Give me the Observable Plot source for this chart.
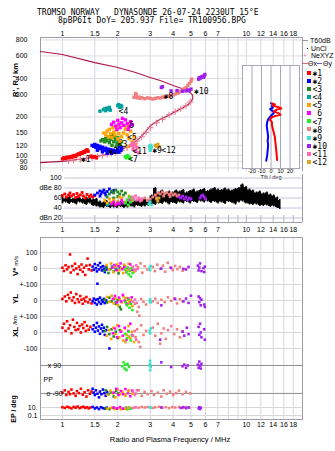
<!DOCTYPE html>
<html>
<head>
<meta charset="utf-8">
<script src="https://cdn.jsdelivr.net/npm/d3@7"></script>
<script src="https://cdn.jsdelivr.net/npm/@observablehq/plot@0.6"></script>
<style>
  html, body { margin: 0; padding: 0; background: #fff; }
  #ionogram { position: relative; width: 335px; height: 451px; overflow: hidden; font-family: "Liberation Sans", Arial, sans-serif; color: #000; }
  #ionogram svg { position: absolute; overflow: visible; }
  .txt { position: absolute; white-space: pre; line-height: 1; }
</style>
</head>
<body>
<div id="ionogram"></div>
<script>
// ---------- header ----------
const titleLine1 = "TROMSO NORWAY   DYNASONDE 26-07-24 2230UT 15°E";
const titleLine2 = "8pBP6It DoY= 205.937 File= TR100956.BPG";

// ---------- axes ----------
const freqDomain = [0.76, 20.2];
const freqTicks = [1, 1.5, 2, 3, 4, 5, 6, 7, 8, 9, 10, 12, 14, 16, 18];
const topFreqTicks = [1, 1.5, 2, 3, 4, 5, 6, 7, 8, 10, 12, 14, 16, 18];
const heightTicks = [80, 90, 100, 120, 150, 200, 300, 400, 600, 800];
const dbTicks = [20, 40, 60, 80, 100];
const dbTickLabels = ["dBn 20", "40", "60", "dBe 80", "100"];
const tiltTicks = [-20, -10, 0, 10, 20];

// ---------- echo groups ----------
const groups = ["✱1", "✱2", "<3", "<4", "<5", " 6", "<7", "✱8", "✱9", "✱10", "<11", "<12"];
const groupColors = ["#ff0000", "#0000ff", "#228b22", "#00a0a0", "#ffa500", "#ff00ff",
                     "#22ee22", "#f08080", "#40e0d0", "#a020f0", "#ff69b4", "#daa520"];

// virtual heights R' (MHz, km)
const virtualHeights = [
  [[1.0,94],[1.02,96],[1.04,95],[1.06,97],[1.08,96],[1.1,98],[1.12,97],[1.14,99],[1.16,100],[1.18,98],[1.2,101],[1.22,103],[1.24,102],[1.26,105],[1.28,104],[1.3,107],[1.32,106],[1.34,109],[1.36,111],[1.38,108],[1.43,99],[1.46,97],[1.5,98],[1.53,96]],
  [[1.45,120],[1.48,118],[1.5,122],[1.52,116],[1.55,120],[1.58,115],[1.6,118],[1.62,113],[1.65,116],[1.68,112],[1.7,110],[1.72,114],[1.75,109],[1.78,112],[1.8,108],[1.83,111],[1.86,107],[1.9,110],[1.93,106],[1.96,108],[2.0,112],[2.02,118],[2.04,124],[2.06,130],[2.03,106],[2.08,110],[2.1,115],[1.55,110],[1.65,107],[1.75,104],[1.85,104]],
  [[1.62,130],[1.65,133],[1.7,128],[1.72,136],[1.75,131],[1.78,140],[1.8,126],[1.83,134],[1.85,145],[1.88,138],[1.9,128],[1.92,142],[1.95,133],[1.98,125],[2.0,138],[2.03,130],[2.06,122],[2.1,128],[1.86,120],[1.96,118]],
  [[1.6,222],[1.67,228],[1.7,232],[1.72,224],[1.75,235],[1.78,230],[1.8,238],[1.82,226],[2.0,245],[2.02,250],[2.05,238],[2.08,246],[2.1,240]],
  [[1.68,150],[1.72,145],[1.75,155],[1.78,140],[1.8,160],[1.83,148],[1.86,138],[1.88,165],[1.9,152],[1.93,145],[1.96,158],[2.0,135],[2.03,148],[2.06,128],[2.1,140],[2.15,150],[2.2,160],[2.25,145],[2.3,135],[2.35,155],[2.4,128],[2.45,140],[2.5,122],[2.2,170],[2.28,118],[1.98,168]],
  [[1.85,175],[1.9,182],[1.95,170],[2.0,188],[2.03,176],[2.06,165],[2.1,180],[2.15,172],[2.2,190],[2.25,178],[2.3,168],[2.35,184],[2.4,174],[2.12,195],[1.98,160],[2.28,160]],
  [[2.2,98],[2.23,96],[2.26,100],[2.3,97],[2.33,95]],
  [[2.45,285],[2.5,290],[2.5,305],[2.52,298],[2.55,282],[2.6,286],[2.65,280],[2.7,284],[2.8,278],[2.9,282],[3.0,280],[3.1,276],[3.2,280],[3.3,283],[3.4,281],[3.5,286],[3.6,284],[3.7,290],[3.8,293],[3.9,292],[4.0,298],[4.1,302],[4.2,306],[4.3,312],[4.4,318],[4.5,325],[4.6,332],[4.7,340],[4.8,352],[4.9,365],[5.0,380],[5.05,395]],
  [[2.98,118],[3.0,114],[3.02,120],[3.04,116],[3.0,110]],
  [[3.45,340],[3.5,345],[3.9,320],[4.2,322],[4.5,318],[4.7,320],[4.8,325],[4.9,322],[5.0,330],[5.5,395],[5.55,405],[5.6,400],[5.7,412],[5.8,415],[5.9,420],[5.95,430],[5.85,408]],
  [[2.35,120],[2.4,125],[2.42,112],[2.45,118],[2.5,108],[2.55,115],[2.6,105],[2.48,122]],
  [[3.2,120],[3.25,118],[3.3,122],[3.35,117]]
];
const labelF = [1.26, 1.78, 2.0, 2.02, 2.25, 2.3, 2.28, 3.55, 3.08, 5.2, 2.4, 3.45];
const labelH = [94, 108, 122, 220, 138, 172, 94, 290, 109, 316, 108, 110];

// electron density profile (plasma frequency MHz, real height km)
const profileF = [0.76,1.0,1.2,1.42,1.62,1.82,2.05,2.34,2.6,2.8,3.0,3.2,3.4,3.7,4.0,4.3,4.66,4.9,5.05,5.12,5.1,5.0,4.8,4.5,4.0,3.4,3.0,2.5,2.0,1.5,1.0,0.76];
const profileH = [88,90,93,96,100,104,110,120,135,150,170,182,192,203,216,228,242,255,268,283,297,306,318,333,352,385,407,445,487,532,615,650];
const neXYZF = [1.08,1.15,1.25,1.35,1.45,1.55,1.65,1.75,1.85,1.95,2.1,2.25,2.4,2.55,2.7,2.85,3.0,3.25,3.5,3.8,4.1,4.4,4.7,4.95];
const neXYZH = [91,92,93,95,96,98,100,102,104,106,110,115,122,130,140,152,165,180,192,208,220,232,245,262];

// tilts (km, deg)
const tiltXH = [255,250,245,238,233,228,220,214,208,203,197,190,182,172,160,150,140,130,120,110,100,92];
const tiltX  = [1,4,2,8,11,6,3,8,10,4,0,-1,1,1,2,3,4,4.5,5,5.5,6,6.5];
const tiltYH = [255,250,243,236,230,222,215,208,200,192,182,170,160,150,140,130,120,110,100,91];
const tiltY  = [0,3,1,2,-1,2,3,1,-1,-3,-4,-4.5,-4,-3.5,-3,-3.5,-3,-3.5,-4,-5];

// echo amplitudes (MHz, dB)
const amplitudes = [
  [[1.0,65],[1.03,68],[1.05,62],[1.08,66],[1.1,70],[1.12,64],[1.15,67],[1.18,61],[1.2,69],[1.22,63],[1.25,66],[1.28,71],[1.3,64],[1.33,60],[1.36,67],[1.4,63],[1.43,66],[1.46,62],[1.5,65]],
  [[1.5,66],[1.55,70],[1.6,74],[1.62,68],[1.65,72],[1.68,76],[1.7,70],[1.75,73],[1.8,78],[1.85,72],[1.9,75],[1.6,64],[1.72,66]],
  [[1.75,62],[1.8,68],[1.85,74],[1.9,70],[1.95,76],[2.0,72],[2.05,68],[2.1,74],[2.15,66],[1.9,60],[2.0,63],[2.2,70]],
  [[1.75,46],[1.8,48],[2.05,50]],
  [[1.7,55],[1.75,50],[1.8,58],[1.85,52],[1.9,56],[1.95,48],[2.0,54],[2.1,60],[2.2,52],[2.3,64],[2.35,58],[2.4,55],[2.05,62]],
  [[1.85,48],[1.9,52],[1.95,46],[2.0,50],[2.05,48],[2.1,55],[2.15,50],[2.3,56],[2.35,52]],
  [[2.2,50],[2.25,56],[2.28,46],[2.32,62],[2.35,52],[2.4,58]],
  [[2.7,56],[2.8,60],[2.9,55],[3.0,58],[3.1,62],[3.2,66],[3.3,70],[3.4,68],[3.5,72],[3.6,69],[3.7,71],[3.8,67],[3.9,70],[4.0,66],[4.1,68],[4.2,64],[4.3,66],[3.25,60],[3.55,64],[3.85,63]],
  [[2.95,48],[3.0,52],[3.05,46]],
  [[4.3,62],[4.4,60],[4.5,64],[4.6,58],[4.7,62],[4.8,56],[4.9,60],[5.0,58],[5.6,60],[5.7,64],[5.8,66],[5.9,62],[6.0,58]],
  [[2.4,62],[2.45,58],[2.5,64],[2.55,56],[2.6,60],[2.65,54],[2.7,58]],
  [[3.25,58],[3.3,54],[3.35,60]]
];
// noise level (MHz, low dB, high dB)
const noise = [
  [1.00,50,60],[1.04,52,58],[1.09,49,61],[1.14,51,57],[1.19,48,60],[1.24,52,59],[1.29,50,57],[1.35,47,60],[1.41,50,58],[1.47,45,56],
  [1.53,44,57],[1.60,42,52],[1.67,41,50],[1.74,43,53],[1.82,41,50],[1.90,42,52],[1.98,41,49],[2.07,43,51],[2.16,41,50],[2.26,42,51],
  [2.36,44,54],[2.46,42,52],[2.57,45,55],[2.69,43,56],[2.81,44,57],[2.93,45,54],[3.06,48,64],[3.20,47,79],[3.34,50,70],[3.49,49,74],
  [3.65,52,68],[3.81,48,72],[3.98,51,70],[4.16,49,74],[4.35,52,72],[4.54,50,75],[4.74,53,70],[4.95,50,73],[5.17,53,76],[5.40,51,72],
  [5.64,54,75],[5.90,52,77],[6.16,54,73],[6.43,51,76],[6.72,53,79],[7.02,50,76],[7.33,52,75],[7.66,49,78],[8.00,53,76],[8.36,51,74],
  [8.73,48,77],[9.12,52,79],[9.53,54,86],[9.95,50,81],[10.40,48,76],[10.86,47,74],[11.35,48,70],[11.85,45,72],[12.38,45,68],[12.93,46,70],
  [13.51,43,66],[14.11,44,64],[14.74,41,60],[15.20,39,55]
];

// Doppler velocity V* (MHz, m/s)
const velocities = [
  [[1.0,5],[1.02,-15],[1.04,20],[1.06,-5],[1.08,10],[1.1,88],[1.11,-25],[1.13,15],[1.15,-10],[1.17,30],[1.19,0],[1.21,-35],[1.23,12],[1.25,-8],[1.27,25],[1.29,-20],[1.31,5],[1.33,-40],[1.35,18],[1.37,62],[1.39,-5],[1.41,22],[1.44,-12]],
  [[1.46,12],[1.48,-8],[1.5,28],[1.52,2],[1.54,-18],[1.56,20],[1.58,-5],[1.6,35],[1.62,8],[1.64,-12],[1.66,15],[1.68,-3],[1.7,-22],[1.72,10],[1.74,-6],[1.55,-95]],
  [[1.7,-12],[1.74,6],[1.78,-28],[1.82,-4],[1.86,12],[1.9,-18],[1.94,3],[1.98,-8],[2.02,-30],[2.06,4]],
  [[1.95,-8],[2.05,6]],
  [[1.74,22],[1.79,-6],[1.84,32],[1.89,-22],[1.94,10],[1.99,26],[2.04,-12],[2.09,2],[2.14,-28],[2.19,16],[2.24,-6],[2.29,30],[2.34,-16],[2.39,6],[2.45,-20]],
  [[1.87,6],[1.92,22],[1.97,-10],[2.02,14],[2.07,32],[2.12,-4],[2.17,10],[2.22,-22],[2.28,2],[2.34,26],[2.4,-8]],
  [[2.2,-6],[2.23,-22],[2.26,6],[2.29,-36],[2.32,-14],[2.35,-50],[2.38,2],[2.41,-28]],
  [[2.5,-12],[2.58,8],[2.66,32],[2.72,-26],[2.8,14],[2.9,-6],[3.1,10],[3.18,-16],[3.28,24],[3.4,-2],[3.52,18],[3.62,-20],[3.74,36],[3.86,6],[3.98,-10],[4.1,16],[4.22,-4],[4.35,10],[4.5,-14]],
  [[2.98,6],[3.0,-10],[3.02,16]],
  [[3.45,0],[3.9,4],[4.55,-2],[4.7,-6],[4.85,10],[5.45,18],[5.5,-12],[5.55,6],[5.6,32],[5.7,-16],[5.85,2],[5.9,-22],[5.95,12]],
  [[2.42,12],[2.47,-6],[2.52,20],[2.56,-2]],
  [[2.16,24],[2.26,-10]]
];
// reflection point location YL (MHz, km)
const locationsY = [
  [[1.0,10],[1.03,25],[1.05,-5],[1.07,35],[1.09,15],[1.11,50],[1.13,0],[1.15,20],[1.17,-15],[1.19,40],[1.21,8],[1.23,-10],[1.25,28],[1.27,5],[1.29,-20],[1.31,12],[1.33,-5],[1.35,22],[1.38,-12],[1.41,6],[1.44,-18]],
  [[1.46,-5],[1.48,12],[1.5,-15],[1.52,5],[1.54,-25],[1.56,8],[1.58,-10],[1.6,18],[1.62,-20],[1.64,2],[1.66,-8],[1.68,10],[1.7,-16],[1.73,0]],
  [[1.7,5],[1.75,-12],[1.8,18],[1.85,-6],[1.9,10],[1.95,-20],[2.0,2],[2.05,-40],[2.08,-55]],
  [[1.95,-10]],
  [[1.75,22],[1.8,-8],[1.85,30],[1.9,-18],[1.95,12],[2.0,-30],[2.05,8],[2.1,-12],[2.15,25],[2.2,-5],[2.25,15],[2.3,-22],[2.35,4],[2.4,-35]],
  [[1.88,10],[1.93,28],[1.98,-12],[2.03,18],[2.08,-6],[2.13,35],[2.18,0],[2.23,-20],[2.28,12],[2.33,-10],[2.38,20]],
  [[2.2,-10],[2.24,-30],[2.28,5],[2.32,-45],[2.36,-20],[2.4,-60]],
  [[2.48,-20],[2.55,-70],[2.6,-40],[2.62,-95],[2.68,10],[2.76,-8],[2.85,-25],[3.1,-5],[3.2,12],[3.3,-15],[3.45,5],[3.6,-10],[3.75,20],[3.9,-2],[4.05,14],[4.2,-18],[4.35,8],[4.5,-6]],
  [[2.98,-5],[3.0,8],[3.02,-12]],
  [[3.45,-30],[4.1,10],[4.55,-5],[4.7,12],[4.85,-15],[5.0,30],[5.5,25],[5.55,-10],[5.6,15],[5.65,-30],[5.7,5],[5.9,-25],[5.95,-40]],
  [[2.42,-8],[2.48,6],[2.54,-15]],
  [[2.2,15],[2.3,-5]]
];
// reflection point location XL (MHz, km)
const locationsX = [
  [[1.0,30],[1.02,55],[1.04,10],[1.06,70],[1.08,25],[1.1,45],[1.12,-5],[1.14,80],[1.16,35],[1.18,15],[1.2,60],[1.22,20],[1.24,40],[1.26,0],[1.28,50],[1.3,28],[1.32,65],[1.34,10],[1.36,42],[1.39,18],[1.42,35]],
  [[1.46,20],[1.48,45],[1.5,5],[1.52,30],[1.54,60],[1.56,12],[1.58,38],[1.6,-8],[1.62,25],[1.64,48],[1.66,8],[1.68,30],[1.7,-15],[1.73,15],[1.8,-100]],
  [[1.7,10],[1.75,35],[1.8,-10],[1.85,20],[1.9,-25],[1.95,5],[2.0,-35],[2.05,15]],
  [],
  [[1.74,-20],[1.79,15],[1.84,-40],[1.89,30],[1.94,-10],[1.99,45],[2.04,-30],[2.09,10],[2.14,-50],[2.19,25],[2.24,-15],[2.29,40],[2.34,-35],[2.39,5],[2.45,-60]],
  [[1.88,-5],[1.93,25],[1.98,-30],[2.03,40],[2.08,5],[2.13,-20],[2.18,30],[2.23,-45],[2.28,10],[2.34,55],[2.39,-15]],
  [[2.2,-10],[2.25,-35],[2.3,5],[2.35,-50],[2.4,-20]],
  [[2.5,-30],[2.55,20],[2.6,-60],[2.65,-90],[2.68,45],[2.76,-15],[2.85,10],[3.1,30],[3.2,-20],[3.3,55],[3.4,-70],[3.45,-5],[3.55,25],[3.65,-40],[3.75,15],[3.9,40],[4.05,-10],[4.2,20],[4.35,-30],[4.5,8]],
  [[2.98,10],[3.0,-5],[3.02,25]],
  [[3.4,-45],[4.5,5],[4.6,-20],[4.75,30],[4.85,-10],[5.5,35],[5.55,-15],[5.6,55],[5.65,0],[5.7,-30],[5.9,20],[5.95,-45]],
  [[2.42,-20],[2.47,10],[2.52,-45]],
  [[2.2,-60],[2.3,-25]]
];
// polarization PP (MHz, deg)
const polarizations = [
  [[1.0,-85],[1.03,-70],[1.05,-100],[1.08,-80],[1.1,-95],[1.12,-65],[1.15,-90],[1.18,-105],[1.2,-75],[1.23,-88],[1.26,-60],[1.29,-98],[1.32,-82],[1.35,-110],[1.38,-70],[1.41,-92],[1.44,-78]],
  [[1.46,-60],[1.48,-85],[1.5,-100],[1.52,-70],[1.55,-92],[1.58,-115],[1.6,-78],[1.63,-95],[1.66,-65],[1.69,-88],[1.72,-105],[1.75,-80]],
  [[1.72,-70],[1.78,-95],[1.84,-82],[1.9,-110],[1.96,-75],[2.02,-90]],
  [],
  [[1.76,-100],[1.82,-72],[1.88,-90],[1.94,-115],[2.0,-65],[2.06,-95],[2.12,-80],[2.2,-105],[2.3,-70],[2.4,-92]],
  [[1.9,-85],[1.96,-60],[2.02,-100],[2.08,-75],[2.14,-95],[2.2,-62],[2.27,-88],[2.34,-108],[2.4,-72]],
  [[2.12,85],[2.15,110],[2.18,70],[2.2,95],[2.23,60],[2.26,100],[2.3,80]],
  [[2.5,-90],[2.6,-70],[2.7,-105],[2.8,-80],[2.9,-95],[3.05,-75],[3.15,-100],[3.3,-85],[3.45,-110],[3.55,-70],[3.7,-92],[3.85,-78],[4.0,-100],[4.15,-88],[4.3,-72],[4.5,-95],[4.7,-80],[4.95,-90]],
  [[2.98,90],[3.0,120],[3.0,60],[3.02,80],[3.0,100]],
  [[3.45,110],[3.9,80],[4.5,85],[4.6,95],[4.7,75],[4.8,90],[5.45,95],[5.5,75],[5.55,115],[5.6,88],[5.65,70],[5.7,100]],
  [[2.42,-80],[2.48,-100],[2.54,-70]],
  [[2.2,-95],[2.28,-75]]
];
// phase path error EP (MHz, deg)
const phaseErrors = [
  [[1.0,12],[1.03,8],[1.06,15],[1.09,10],[1.12,6],[1.15,14],[1.18,9],[1.21,18],[1.24,7],[1.27,11],[1.3,16],[1.33,8],[1.36,12],[1.39,6],[1.42,10]],
  [[1.46,14],[1.5,6],[1.54,10],[1.58,4],[1.62,12],[1.66,7],[1.7,5],[1.74,9]],
  [[1.72,6],[1.8,4],[1.88,8],[1.96,5]],
  [],
  [[1.76,5],[1.84,9],[1.92,4],[2.0,7],[2.08,3.5],[2.16,6],[2.24,4],[2.32,8]],
  [[1.9,10],[1.98,6],[2.06,12],[2.14,5],[2.22,9],[2.3,7]],
  [[2.2,7],[2.25,4],[2.3,9],[2.35,5]],
  [[2.5,12],[2.6,9],[2.7,14],[2.8,10],[2.9,13],[3.1,8],[3.2,11],[3.35,15],[3.5,9],[3.65,12],[3.8,7],[3.95,13],[4.1,10],[4.3,14],[4.5,8],[4.7,12],[4.9,10]],
  [[2.98,12],[3.02,9]],
  [[3.45,10],[4.4,8],[4.55,12],[4.7,7],[4.85,10],[5.5,6],[5.55,12],[5.6,4],[5.65,9]],
  [[2.42,8],[2.5,11]],
  [[2.2,5],[2.28,8]]
];

// ---------- lower panel: stacked tracks on one shared vertical scale ----------
const trackV = v => v;            // V* m/s around 0
const trackYL = v => v - 200;     // YL km around -200
const trackXL = v => v - 400;     // XL km around -400
const trackPP = p => -693.5 + p * 0.972;                 // +90 / -90 deg rows
const trackEP = e => -869 + 25 * (Math.log10(e) - 1);     // log EP row
const trackTicks = [100, 0, -100, -200, -300, -400, -500, trackEP(10), trackEP(0.1)];
const trackTickLabels = ["100", "0", "+-100", "0", "+-100", "0", "-100", "10.", "0.1"];

// ---------- helpers ----------
const root = document.getElementById("ionogram");
const SANS = "Liberation Sans, Arial, sans-serif";
const MONO = "DejaVu Sans Mono, monospace";
const gridColor = "#d6d6e8";
const frameColor = "#9c9cab";
const baseStyle = {background: "transparent", fontFamily: SANS, fontSize: "7px", color: "#000", overflow: "visible"};
const flat = sets => sets.flatMap((pts, g) => pts.map(([f, v]) => ({g, f, v})));
const colorOf = d => groupColors[d.g];

function put(node, left, top) {
  node.style.position = "absolute";
  node.style.left = left + "px";
  node.style.top = top + "px";
  root.appendChild(node);
}
function note(html, x, y, css = {}) {
  const d = document.createElement("div");
  d.className = "txt";
  d.innerHTML = html;
  Object.assign(d.style, {left: x + "px", top: y + "px"}, css);
  root.appendChild(d);
  return d;
}
const centered = "translate(-50%,-50%)";
const rotated = "translate(-50%,-50%) rotate(-90deg)";

// ---------- header ----------
note(titleLine1, 37, 8, {font: `8px ${MONO}`});
note(titleLine2, 58, 16, {font: `8px ${MONO}`});

// ---------- height panel ----------
const heightPanel = Plot.plot({
  width: 335, height: 145, marginLeft: 40, marginRight: 33, marginTop: 9, marginBottom: 2,
  style: baseStyle,
  x: {type: "log", domain: freqDomain},
  y: {type: "log", domain: [75, 836]},
  marks: [
    Plot.ruleX(freqTicks, {stroke: gridColor}),
    Plot.ruleY(heightTicks, {stroke: "#dcdcdc"}),
    Plot.ruleY([836], {stroke: frameColor}),
    Plot.ruleX(freqDomain, {stroke: frameColor}),
    Plot.line(profileF.map((f, i) => ({f, h: profileH[i]})), {x: "f", y: "h", stroke: "#b01848", strokeWidth: 1.1}),
    Plot.dot(neXYZF.map((f, i) => ({f, h: neXYZH[i]})), {x: "f", y: "h", symbol: "plus", r: 2.2, stroke: "#e8708c", strokeWidth: 1}),
    Plot.dot(flat(virtualHeights), {x: "f", y: "v", fill: colorOf, symbol: "square", r: 1.9}),
    Plot.text(groups.map((t, i) => ({t: t.trim(), f: labelF[i], h: labelH[i]})),
      {x: "f", y: "h", text: "t", textAnchor: "start", fill: "#000", fontFamily: MONO, fontSize: 8}),
    Plot.axisX({anchor: "top", ticks: topFreqTicks, tickSize: 0, tickPadding: 2, tickFormat: d => String(d), label: null}),
    Plot.axisY({ticks: heightTicks, tickSize: 0, tickPadding: 13, tickFormat: d => String(d), label: null})
  ]
});
put(heightPanel, 0, 28);
note("R', R / km", 15, 80, {font: `bold 7.5px ${SANS}`, transform: rotated});

// ---------- tilt inset ----------
const tiltPanel = Plot.plot({
  width: 70, height: 125, marginLeft: 7, marginRight: 6, marginTop: 5, marginBottom: 17,
  style: {...baseStyle, fontSize: "5.5px"},
  x: {domain: [-30, 30]},
  y: {type: "log", domain: [79, 505], axis: null},
  marks: [
    Plot.frame({fill: "white", stroke: "#a8a8b8"}),
    Plot.ruleX(tiltTicks, {stroke: "#a8a8b8"}),
    Plot.line(tiltY.map((t, i) => ({t, h: tiltYH[i]})), {x: "t", y: "h", stroke: "#0000ff", strokeWidth: 2}),
    Plot.line(tiltX.map((t, i) => ({t, h: tiltXH[i]})), {x: "t", y: "h", stroke: "#ff0000", strokeWidth: 2}),
    Plot.axisX({ticks: tiltTicks, tickSize: 0, tickPadding: 1, tickFormat: d => String(d), label: null})
  ]
});
put(tiltPanel, 235, 60);
note("Tilt / deg", 271, 177, {font: `5.5px ${SANS}`, transform: centered});

// ---------- legend ----------
note("T60dB", 310, 37, {font: `7px ${SANS}`});
note("", 302, 40, {width: "6px", height: "1px", background: "#999"});
note("UnCl", 311, 44.5, {font: `7px ${SANS}`});
note("", 307, 48, {width: "1px", height: "1px", background: "#000"});
note("NeXYZ", 311, 52, {font: `7px ${SANS}`});
note("+", 303, 51.5, {font: `7px ${SANS}`, color: "#e8708c"});
note("", 302, 63, {width: "6px", height: "1px", background: "#e06070"});
note("Θx", 308, 59.5, {font: `7px ${SANS}`});
note("", 317, 63, {width: "5px", height: "1px", background: "#6060e0"});
note("Θy", 323, 59.5, {font: `7px ${SANS}`});
groups.forEach((name, i) => {
  const yc = 72.7 + i * 8.1;
  note("", 307, yc - 2, {width: "4px", height: "4px", background: groupColors[i]});
  note(name, 312.5, yc - 3.8, {font: `8px ${MONO}`});
});

// ---------- amplitude panel ----------
const ampPanel = Plot.plot({
  width: 335, height: 64, marginLeft: 40, marginRight: 33, marginTop: 2, marginBottom: 14,
  style: baseStyle,
  x: {type: "log", domain: freqDomain},
  y: {domain: [11, 107], axis: null},
  marks: [
    Plot.ruleY(dbTicks, {x1: () => 1.03, x2: () => freqDomain[1], stroke: "#c4c4dc"}),
    Plot.ruleX(freqTicks, {y1: () => 11, y2: () => 25, stroke: "#b4b4c8"}),
    Plot.ruleY([11], {stroke: frameColor}),
    Plot.ruleX([freqDomain[1]], {stroke: frameColor}),
    Plot.areaY(noise, {x: d => d[0], y1: d => d[1], y2: d => d[2], fill: "#000", curve: "step"}),
    Plot.ruleX(noise, {x: d => d[0], y1: d => d[1] - 2, y2: d => d[2] + 2, stroke: "#000", strokeWidth: 1.5}),
    Plot.dot(flat(amplitudes), {x: "f", y: "v", fill: colorOf, symbol: "square", r: 1.6}),
    Plot.text(dbTicks.map((v, i) => ({v, t: dbTickLabels[i]})), {x: () => 0.99, y: "v", text: "t", textAnchor: "end", fill: "#000"}),
    Plot.axisX({ticks: freqTicks, tickSize: 0, tickPadding: 5, tickFormat: d => String(d), label: null})
  ]
});
put(ampPanel, 0, 172);

// ---------- velocity / location / polarization panel ----------
const trackPoints = [
  ...flat(velocities).map(d => ({...d, u: trackV(d.v)})),
  ...flat(locationsY).map(d => ({...d, u: trackYL(d.v)})),
  ...flat(locationsX).map(d => ({...d, u: trackXL(d.v)})),
  ...flat(polarizations).map(d => ({...d, u: trackPP(d.v)})),
  ...flat(phaseErrors).map(d => ({...d, u: trackEP(d.v)}))
];
const lowerPanel = Plot.plot({
  width: 335, height: 215, marginLeft: 40, marginRight: 33, marginTop: 5, marginBottom: 28,
  style: baseStyle,
  x: {type: "log", domain: freqDomain},
  y: {domain: [-944, 194]},
  marks: [
    Plot.ruleX(freqTicks, {stroke: gridColor}),
    Plot.ruleY(trackTicks, {stroke: "#d8d8d8"}),
    Plot.ruleY([trackPP(90), trackPP(-90)], {stroke: "#8c8c8c"}),
    Plot.frame({stroke: frameColor}),
    Plot.dot(trackPoints, {x: "f", y: "u", fill: colorOf, symbol: "square", r: 1.45}),
    Plot.text([{t: "x 90", u: trackPP(90), f: 0.833}, {t: "o -90", u: trackPP(-90), f: 0.82}, {t: "PP", u: trackPP(0), f: 0.79}],
      {x: "f", y: "u", text: "t", textAnchor: "start", fill: "#000", fontSize: 7}),
    Plot.axisX({ticks: topFreqTicks, tickSize: 0, tickPadding: 3, tickFormat: d => String(d), label: null}),
    Plot.axisY({ticks: trackTicks, tickSize: 0, tickPadding: 3, tickFormat: d => trackTickLabels[trackTicks.indexOf(d)], label: null})
  ]
});
put(lowerPanel, 0, 232);

note('<b style="font-size:8px">V*</b> <span style="font-size:6px">m/s</span>', 15, 266, {font: `7px ${SANS}`, transform: rotated});
note("YL", 15, 299, {font: `bold 8px ${SANS}`, transform: rotated});
note("/km", 15, 320, {font: `6px ${SANS}`, transform: rotated});
note("XL", 15, 332, {font: `bold 8px ${SANS}`, transform: rotated});
note("EP / deg", 13, 409, {font: `bold 7px ${SANS}`, transform: rotated});
note("Radio and Plasma Frequency / MHz", 170, 439, {font: `7.5px ${SANS}`, transform: centered});
</script>
</body>
</html>
